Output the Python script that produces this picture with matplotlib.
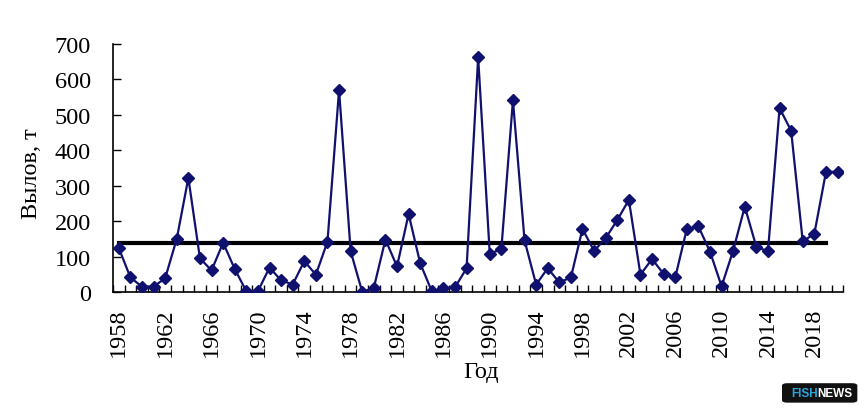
import numpy as np
import matplotlib
matplotlib.use("Agg")
import matplotlib.pyplot as plt
from matplotlib.patches import FancyBboxPatch

years = list(range(1958, 2021))
catch = [124, 41, 15, 15, 39, 150, 322, 95, 61, 139, 65, 2, 2, 69, 33, 21,
         87, 49, 142, 570, 115, 0, 12,
         148, 72, 220, 81, 2, 11, 13, 67, 662, 108, 121, 541, 146, 21, 67,
         27, 41, 178, 116, 152, 203, 260,
         49, 93, 51, 41, 178, 185, 114, 16, 117, 241, 127, 115, 519, 455,
         143, 164, 338, 340]
mean_years = list(range(1958, 2020))
mean_level = [138] * len(mean_years)
label_years = list(range(1958, 2019, 4))
y_ticks = [0, 100, 200, 300, 400, 500, 600, 700]

plt.rcParams['font.family'] = ['Liberation Serif', 'DejaVu Serif']
FS = 17.5

fig = plt.figure(figsize=(8.66, 4.14), dpi=100)
ax = fig.add_axes([0.1305, 0.2923, 0.8433, 0.599])

ax.plot(mean_years, mean_level, color="black", lw=3, zorder=2)
ax.plot(years, catch, color="#10106e", lw=1.6, marker="D", markersize=6,
        zorder=3)

ax.set_xlim(years[0] - 0.5, years[-1] + 0.5)
ax.set_ylim(0, 700)

ax.set_xticks(label_years)
ax.set_xticklabels([str(y) for y in label_years], rotation=90, fontsize=FS)
ax.set_xticks(np.arange(years[0] - 0.5, years[-1] + 1, 1), minor=True)
ax.tick_params(axis="x", which="major", length=0, pad=11)
ax.tick_params(axis="x", which="minor", direction="in", length=5, width=1)

ax.set_yticks(y_ticks)
ax.set_yticklabels([str(v) for v in y_ticks], fontsize=FS)
ax.tick_params(axis="y", direction="in", length=6, width=1, pad=16)

for side in ["top", "right"]:
    ax.spines[side].set_visible(False)
for side in ["left", "bottom"]:
    ax.spines[side].set_linewidth(1.2)

fig.text(0.556, 0.101, "Год", fontsize=FS, ha="center", va="center")
fig.text(0.036, 0.58, "Вылов, т", fontsize=FS, ha="center", va="center",
         rotation=90)

# logo badge in the corner
badge = FancyBboxPatch((0.905, 0.027), 0.083, 0.043,
                       boxstyle="round,pad=0.002,rounding_size=0.006",
                       transform=fig.transFigure, facecolor="#111111",
                       edgecolor="none")
fig.patches.append(badge)
fig.text(0.944, 0.049, "FISH", fontsize=8.5, fontweight="bold",
         color="#2aa6dc", family="Liberation Sans", ha="right", va="center")
fig.text(0.944, 0.049, "NEWS", fontsize=8.5, fontweight="bold",
         color="white", family="Liberation Sans", ha="left", va="center")

fig.savefig("out.png", dpi=100)
